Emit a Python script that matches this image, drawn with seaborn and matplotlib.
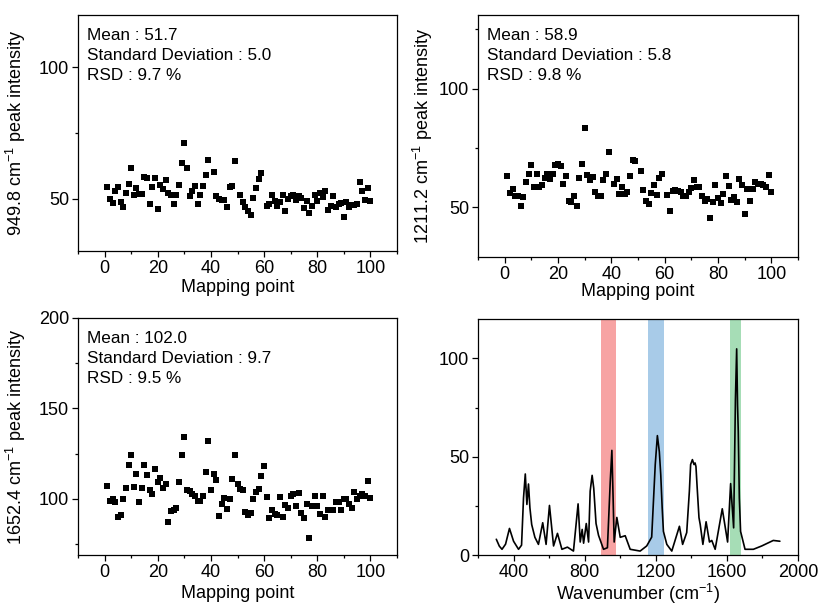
import matplotlib
matplotlib.use("Agg")
import matplotlib.pyplot as plt
import seaborn as sns
import pandas as pd
from matplotlib.ticker import MultipleLocator

# ---------------- data ----------------
p1_idx = list(range(1, 40)) + list(range(41, 50)) + list(range(51, 60)) + list(range(61, 101))
p1_val = [54.4, 50.0, 48.2, 52.8, 54.4, 48.5, 46.7, 52.1, 55.7, 61.7,
          51.3, 54.2, 51.9, 51.8, 58.3, 57.7, 48.0, 54.5, 57.7, 46.2,
          55.3, 53.8, 57.1, 52.0, 51.3, 47.9, 51.5, 55.2, 63.7, 71.2,
          61.5, 50.8, 52.8, 54.7, 48.0, 51.5, 54.7, 58.8, 64.8,
          60.0, 50.9, 50.0, 49.6, 49.5, 46.6, 54.4, 54.7, 64.4,
          51.3, 48.6, 46.7, 45.2, 43.9, 50.4, 54.0, 57.6, 59.7,
          47.2, 48.1, 51.3, 49.2, 47.1, 48.7, 51.3, 45.2, 50.0, 51.0,
          51.3, 49.5, 50.8, 50.3, 46.5, 49.2, 44.6, 47.3, 51.5, 49.0,
          52.1, 50.5, 53.0, 45.7, 47.0, 50.8, 46.7, 48.0, 48.4, 42.9,
          48.7, 46.7, 47.7, 47.7, 48.0, 56.2, 52.8, 49.5, 54.0, 49.2]

p2_idx = list(range(1, 40)) + list(range(41, 50)) + list(range(51, 60)) + list(range(61, 101))
p2_val = [63.3, 56.1, 57.7, 54.7, 54.7, 50.3, 54.5, 60.5, 63.9, 67.8,
          58.4, 64.1, 58.5, 59.4, 62.2, 64.1, 61.9, 64.1, 67.8, 68.1,
          67.2, 59.7, 63.3, 52.4, 52.1, 54.9, 50.7, 62.4, 68.1, 83.5,
          63.6, 61.6, 62.7, 56.3, 54.6, 54.6, 61.3, 63.9, 73.4,
          59.9, 61.9, 55.5, 58.7, 55.5, 56.3, 63.0, 69.8, 69.5,
          65.4, 57.1, 52.8, 51.4, 56.0, 59.4, 55.2, 62.4, 64.1,
          55.2, 48.2, 56.8, 57.1, 56.8, 56.3, 54.9, 54.9, 56.3, 58.0,
          61.3, 58.5, 58.7, 54.9, 52.4, 53.5, 45.6, 52.1, 59.4, 54.0,
          51.7, 55.5, 63.0, 58.8, 52.9, 54.2, 52.1, 61.9, 59.4, 47.3,
          57.7, 52.6, 57.7, 60.5, 59.7, 59.7, 59.4, 58.4, 63.6, 56.6]

p3_idx = list(range(1, 101))
p3_val = [107.3, 98.9, 100.0, 98.5, 90.1, 91.2, 100.0, 105.9, 118.8, 124.3,
          106.6, 113.6, 98.5, 105.9, 118.6, 113.3, 104.8, 102.6, 116.6, 109.2,
          111.8, 105.9, 108.5, 87.1, 93.4, 94.1, 94.8, 109.2, 124.3, 134.3,
          105.2, 104.4, 102.9, 101.5, 98.9, 98.9, 101.8, 114.7, 132.0, 105.2,
          113.6, 110.7, 90.4, 97.4, 100.7, 94.5, 100.0, 111.0, 124.3, 108.1,
          105.5, 105.2, 92.6, 91.2, 92.3, 100.0, 104.0, 105.5, 112.9, 118.0,
          100.9, 89.5, 93.7, 91.9, 91.3, 100.8, 90.1, 96.7, 94.8, 101.8,
          102.9, 96.3, 103.3, 92.3, 89.5, 97.0, 78.6, 95.9, 101.5, 95.9,
          91.5, 101.5, 90.1, 94.1, 94.1, 94.1, 98.5, 98.4, 93.9, 100.0,
          100.2, 97.4, 94.8, 104.0, 100.2, 101.5, 102.9, 101.5, 109.7, 100.7]

spec_wn = [303, 320, 335, 355, 377, 400, 428, 445, 456, 466, 475, 484, 492, 502,
           520, 540, 564, 583, 602, 625, 647, 672, 703, 737, 763, 775, 786, 794,
           809, 822, 831, 842, 851, 864, 878, 906, 928, 944, 953, 960, 966, 981,
           1000, 1028, 1056, 1112, 1149, 1177, 1186, 1197, 1209, 1220, 1228, 1236,
           1243, 1262, 1290, 1333, 1351, 1374, 1389, 1396, 1406, 1415, 1421, 1426,
           1433, 1443, 1450, 1465, 1483, 1502, 1515, 1534, 1574, 1604, 1621, 1638,
           1648, 1655, 1660, 1664, 1670, 1677, 1702, 1749, 1796, 1861, 1898]
spec_int = [8.0, 4.5, 2.9, 5.5, 13.5, 7.0, 2.9, 5.0, 29.0, 41.2, 25.7, 36.1, 24.0, 15.5,
            9.0, 5.4, 16.4, 5.4, 25.2, 4.6, 11.0, 2.9, 4.0, 2.0, 26.0, 6.6, 13.0, 6.0,
            16.0, 6.6, 32.5, 40.5, 34.0, 16.0, 10.0, 2.9, 3.7, 37.5, 53.2, 29.0, 6.6, 19.1,
            9.0, 9.8, 2.9, 2.0, 4.6, 9.1, 25.7, 46.0, 60.7, 52.5, 40.8, 24.0,
            12.0, 5.4, 2.0, 14.6, 5.4, 11.4, 32.5, 46.0, 48.5, 46.0, 46.8, 45.0,
            34.0, 19.0, 15.5, 5.4, 16.9, 6.6, 7.4, 2.9, 23.5, 6.6, 36.3, 13.8,
            79.0, 104.8, 76.0, 62.8, 29.0, 12.0, 2.9, 2.9, 4.6, 7.4, 7.0]

band_lo = [893, 1158, 1616]
band_hi = [975, 1245, 1679]
band_colors = ["#F7A3A3", "#A8CBE8", "#A6DDB6"]

stats_text = ["Mean : 51.7\nStandard Deviation : 5.0\nRSD : 9.7 %",
              "Mean : 58.9\nStandard Deviation : 5.8\nRSD : 9.8 %",
              "Mean : 102.0\nStandard Deviation : 9.7\nRSD : 9.5 %"]
ylabels = ["949.8 cm$^{-1}$ peak intensity",
           "1211.2 cm$^{-1}$ peak intensity",
           "1652.4 cm$^{-1}$ peak intensity"]

# ---------------- style ----------------
sns.set_style("ticks")
plt.rcParams["font.family"] = ["Liberation Sans", "DejaVu Sans"]
plt.rcParams["mathtext.default"] = "regular"
for k in ["text.color", "axes.labelcolor", "xtick.color", "ytick.color", "axes.edgecolor"]:
    plt.rcParams[k] = "black"

fig = plt.figure(figsize=(8.21, 6.06), dpi=100)
W, H = 821, 606

def add_ax(l, r, t, b):
    return fig.add_axes([l / W, 1 - b / H, (r - l) / W, (b - t) / H])

ax1 = add_ax(78, 397, 15, 251)
ax2 = add_ax(478, 798, 15, 257)
ax3 = add_ax(78, 397, 318, 555)
ax4 = add_ax(478, 798, 319, 555)

def style(ax, fs=13):
    for s in ax.spines.values():
        s.set_linewidth(0.9)
        s.set_color("black")
    ax.tick_params(axis="both", which="major", direction="out", length=4.5, width=0.9,
                   labelsize=fs, pad=2, color="black", labelcolor="black",
                   top=False, right=False)
    ax.tick_params(axis="both", which="minor", direction="out", length=2.5, width=0.9,
                   color="black", top=False, right=False)

scatter_sets = [(ax1, p1_idx, p1_val, (30, 120), [50, 100], -0.157, -0.118),
                (ax2, p2_idx, p2_val, (29, 131), [50, 100], -0.134, -0.107),
                (ax3, p3_idx, p3_val, (69, 200), [100, 150, 200], -0.157, -0.127)]

for i, (ax, xi, yv, ylim, yt, ylx, xly) in enumerate(scatter_sets):
    df = pd.DataFrame({"point": xi, "value": yv})
    sns.scatterplot(data=df, x="point", y="value", ax=ax, marker="s", s=16,
                    color="black", edgecolor="black", linewidth=0)
    ax.set_xlim(-10, 110)
    ax.set_ylim(*ylim)
    ax.set_xticks([0, 20, 40, 60, 80, 100])
    ax.xaxis.set_minor_locator(MultipleLocator(10))
    ax.set_yticks(yt)
    ax.yaxis.set_minor_locator(MultipleLocator(25))
    style(ax)
    ax.set_xlabel("Mapping point", fontsize=13)
    ax.set_ylabel(ylabels[i], fontsize=13)
    ax.yaxis.set_label_coords(ylx, 0.5)
    ax.xaxis.set_label_coords(0.5, xly)
    ax.xaxis.label.set_va("top")
    ax.text(0.028, 0.945, stats_text[i], transform=ax.transAxes, ha="left", va="top",
            fontsize=12.3, linespacing=1.42)

# spectrum
for lo, hi, c in zip(band_lo, band_hi, band_colors):
    ax4.axvspan(lo, hi, color=c, zorder=1, lw=0)
spec = pd.DataFrame({"wn": spec_wn, "I": spec_int})
sns.lineplot(data=spec, x="wn", y="I", ax=ax4, color="black", lw=1.2, sort=False,
             estimator=None, zorder=3)
ax4.set_xlim(200, 2000)
ax4.set_ylim(0, 120)
ax4.set_xticks([400, 800, 1200, 1600, 2000])
ax4.xaxis.set_minor_locator(MultipleLocator(200))
ax4.set_yticks([0, 50, 100])
ax4.yaxis.set_minor_locator(MultipleLocator(25))
style(ax4)
ax4.set_xlabel("Wavenumber (cm$^{-1}$)", fontsize=13)
ax4.xaxis.set_label_coords(0.5, -0.115)
ax4.xaxis.label.set_va("top")
ax4.set_ylabel("")

fig.savefig("out.png", dpi=100, facecolor="white")
